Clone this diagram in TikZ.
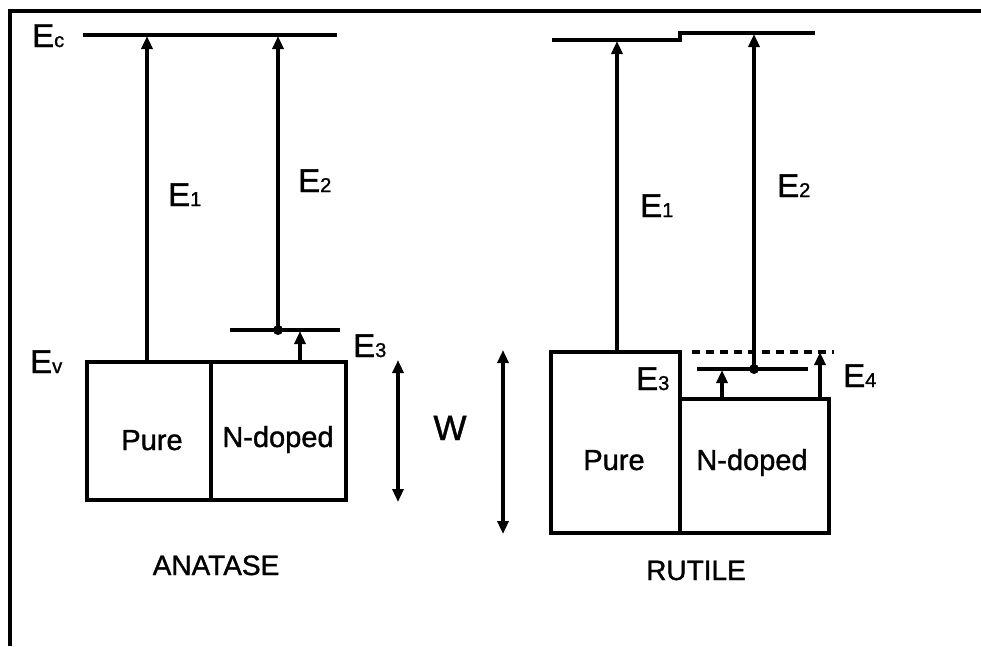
\documentclass[tikz,border=0pt]{standalone}
\usepackage{fontspec}
\setmainfont{Liberation Sans}[FakeBold=1]
\newfontfamily\heavy{Liberation Sans}[FakeBold=1.2]
\usetikzlibrary{arrows.meta}
\newcommand\Elab[1]{E{\fontsize{20}{20}\selectfont #1}}
\begin{document}
\begin{tikzpicture}[x=1pt,y=-1pt,
  frameline/.style={line width=3.5pt},
  level/.style={line width=4pt},
  boxline/.style={line width=3.2pt},
  uparrow/.style={line width=3.2pt,-{Triangle[length=13pt,width=11pt]}},
  twoarrow/.style={line width=3.2pt,{Triangle[length=13pt,width=11pt]}-{Triangle[length=13pt,width=11pt]}},
  dot/.style={circle,fill=black,inner sep=0pt,minimum size=10pt},
  elabel/.style={inner sep=0pt,anchor=base west,font=\heavy\fontsize{33}{34}\selectfont},
  txt/.style={inner sep=0pt,anchor=base,font=\heavy\fontsize{29}{30}\selectfont},
  nametxt/.style={inner sep=0pt,anchor=base,font=\heavy\fontsize{28}{30}\selectfont}]
\useasboundingbox (0,0) rectangle (981,646);
% frame
\coordinate (fc) at (10,11);
\coordinate (fr) at (981,11);
\coordinate (fb) at (10,646);
\draw[frameline] (fr) -- (fc) -- (fb);

% ---------- ANATASE ----------
\coordinate (aEcL) at (83,35);
\coordinate (aEcR) at (337,35);
\draw[level] (aEcL) -- (aEcR);
\coordinate (aB1) at (87,362);
\coordinate (aB2) at (346,500);
\draw[boxline] (aB1) rectangle (aB2);
\coordinate (aDivT) at (211,362);
\coordinate (aDivB) at (211,500);
\draw[boxline] (aDivT) -- (aDivB);
\coordinate (aLvL) at (230,330);
\coordinate (aLvR) at (340,330);
\draw[level] (aLvL) -- (aLvR);
\node[dot] (aDot) at (278,330) {};
\coordinate (aE1s) at (147,362);
\coordinate (aE1e) at (147,36);
\draw[uparrow] (aE1s) -- (aE1e);
\coordinate (aE2e) at (278,36);
\draw[uparrow] (aDot.center) -- (aE2e);
\coordinate (aE3s) at (300,362);
\coordinate (aE3e) at (300,331);
\draw[uparrow] (aE3s) -- (aE3e);
\coordinate (aWt) at (398,360);
\coordinate (aWb) at (398,502);
\draw[twoarrow] (aWt) -- (aWb);

\node[elabel] (lEc) at (32,47) {\Elab{c}};
\node[elabel] (lEv) at (30,373) {\Elab{v}};
\node[elabel] (laE1) at (168,206) {\Elab{1}};
\node[elabel] (laE2) at (298,192) {\Elab{2}};
\node[elabel] (laE3) at (353,357) {\Elab{3}};
\node[inner sep=0pt,anchor=base,font=\heavy\fontsize{35}{36}\selectfont] (lW) at (450,440) {W};
\node[txt] (aPure) at (152,450) {Pure};
\node[txt] (aNd) at (278,447) {N-doped};
\node[nametxt] (aName) at (216,575) {ANATASE};

% ---------- RUTILE ----------
\coordinate (rEc1) at (552,40);
\coordinate (rEc2) at (680,40);
\coordinate (rEc3) at (680,33);
\coordinate (rEc4) at (815,33);
\draw[level] (rEc1) -- (rEc2) -- (rEc3) -- (rEc4);
\coordinate (rP1) at (551,352);
\coordinate (rP2) at (680,533);
\draw[boxline] (rP1) rectangle (rP2);
\coordinate (rN1) at (680,399);
\coordinate (rN2) at (829,533);
\draw[boxline] (rN1) rectangle (rN2);
\coordinate (rDL) at (692,352);
\coordinate (rDR) at (834,352);
\draw[level,dash pattern=on 8pt off 6pt] (rDL) -- (rDR);
\coordinate (rLvL) at (697,369);
\coordinate (rLvR) at (808,369);
\draw[level] (rLvL) -- (rLvR);
\node[dot] (rDot) at (754,369) {};
\coordinate (rE1s) at (617,352);
\coordinate (rE1e) at (617,41);
\draw[uparrow] (rE1s) -- (rE1e);
\coordinate (rE2e) at (754,34);
\draw[uparrow] (rDot.center) -- (rE2e);
\coordinate (rE3s) at (722,399);
\coordinate (rE3e) at (722,370);
\draw[uparrow] (rE3s) -- (rE3e);
\coordinate (rE4s) at (820,399);
\coordinate (rE4e) at (820,352);
\draw[uparrow] (rE4s) -- (rE4e);
\coordinate (rWt) at (503,350);
\coordinate (rWb) at (503,534);
\draw[twoarrow] (rWt) -- (rWb);

\node[elabel] (lrE1) at (640,217) {\Elab{1}};
\node[elabel] (lrE2) at (777,197) {\Elab{2}};
\node[elabel] (lrE3) at (636,390) {\Elab{3}};
\node[elabel] (lrE4) at (843,387) {\Elab{4}};
\node[txt] (rPure) at (614,470) {Pure};
\node[txt] (rNd) at (752,470) {N-doped};
\node[nametxt] (rName) at (696,580) {RUTILE};
\end{tikzpicture}
\end{document}
